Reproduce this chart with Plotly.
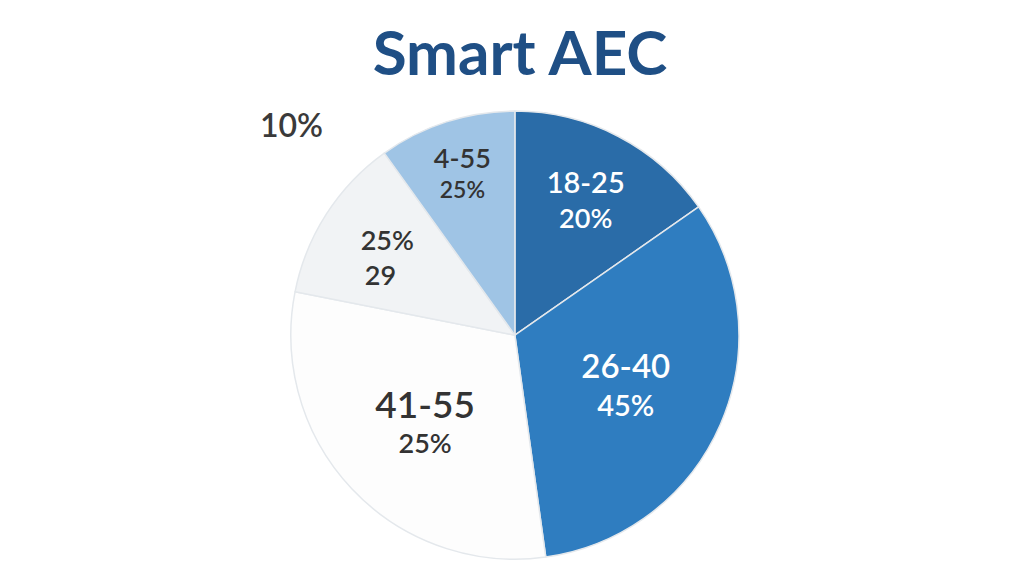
import plotly.graph_objects as go

# slices clockwise from 12 o'clock, sized from the drawn angles
groups = ["18-25", "26-40", "41-55", "29", "4-55"]
shares = [15.3, 32.5, 30.3, 12.0, 9.9]
label_pct = ["20%", "45%", "25%", "25%", "25%"]
slice_colors = ["#2a6ca8", "#2f7dc0", "#fdfdfd", "#f1f3f5", "#9fc4e5"]
text_colors = ["white", "white", "#333333", "#333333", "#333333"]
pct_sizes = [27, 29, 27, 27, 23]
name_sizes = [29, 33, 37, 27, 27]

texts = []
for i, g in enumerate(groups):
    name = f"<span style='font-size:{name_sizes[i]}px'>{g}</span>"
    if i == 3:
        # nudged right/down like the reference label
        pad = "&nbsp;" * 3
        texts.append(f"<span style='font-size:12px'> </span><br>{pad}{label_pct[i]}<br>{pad}{g}&nbsp;&nbsp;")
    else:
        texts.append(f"{name}<br>{label_pct[i]}")

fig = go.Figure(go.Pie(
    labels=groups,
    values=shares,
    text=texts,
    textinfo="text",
    textposition="inside",
    insidetextorientation="horizontal",
    sort=False,
    direction="clockwise",
    rotation=0,
    marker=dict(colors=slice_colors, line=dict(color="#e4e8ec", width=1.5)),
    textfont=dict(family="Lato", size=pct_sizes, color=text_colors, weight=600),
    hoverinfo="label+percent",
    domain=dict(x=[0.276, 0.714], y=[0.043, 0.821]),
))

# stray outside label
fig.add_annotation(
    text="10%", x=0.277, y=0.797, xref="paper", yref="paper",
    xanchor="center", yanchor="middle", showarrow=False,
    font=dict(family="Lato", size=32, color="#3a3a3a", weight=600),
)

fig.update_layout(
    title=dict(text="Smart AEC", x=0.5, y=0.922, xanchor="center", yanchor="middle",
               font=dict(family="Lato", size=62, color="#1f4f85", weight=700)),
    width=1024, height=576,
    margin=dict(l=0, r=0, t=0, b=0),
    paper_bgcolor="white",
    showlegend=False,
)

fig.write_html("out.html")
